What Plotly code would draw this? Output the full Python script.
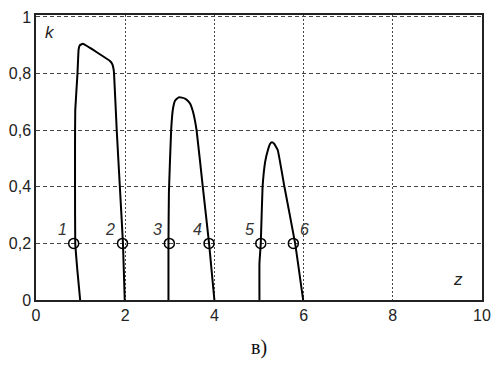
import plotly.graph_objects as go

# Curve data (z, k)
c1_z = [0.99, 0.93, 0.88, 0.875, 0.875, 0.88, 0.93, 0.955, 0.98, 1.05, 1.67, 1.715, 1.74, 1.75, 1.81, 1.88, 1.95, 1.99]
c1_k = [0.0, 0.1, 0.2, 0.4, 0.55, 0.67, 0.8, 0.885, 0.9, 0.905, 0.843, 0.832, 0.815, 0.8, 0.6, 0.4, 0.2, 0.0]

c2_z = [2.97, 2.97, 2.98, 3.03, 3.07, 3.12, 3.2, 3.27, 3.36, 3.45, 3.52, 3.6, 3.74, 3.88, 4.0]
c2_k = [0.0, 0.2, 0.38, 0.6, 0.675, 0.705, 0.716, 0.715, 0.71, 0.695, 0.665, 0.6, 0.4, 0.2, 0.0]

c3_z = [5.01, 5.01, 5.04, 5.08, 5.14, 5.2, 5.25, 5.29, 5.34, 5.42, 5.57, 5.81, 5.99]
c3_k = [0.0, 0.13, 0.2, 0.4, 0.49, 0.53, 0.552, 0.557, 0.552, 0.53, 0.4, 0.2, 0.0]

pt_z = [0.845, 1.94, 2.99, 3.88, 5.04, 5.77]
pt_k = [0.2, 0.2, 0.2, 0.2, 0.2, 0.2]
pt_labels = ["1", "2", "3", "4", "5", "6"]
pt_shift = [-11, -13, -12, -12, -11, 11]

x_ticks = [0, 2, 4, 6, 8, 10]
x_ticktext = ["0", "2", "4", "6", "8", "10"]
y_ticks = [0, 0.2, 0.4, 0.6, 0.8, 1.0]
y_ticktext = ["0", "0,2", "0,4", "0,6", "0,8", "1"]

SANS = "Arial, Liberation Sans, sans-serif"

fig = go.Figure()
for zz, kk in [(c1_z, c1_k), (c2_z, c2_k), (c3_z, c3_k)]:
    fig.add_trace(go.Scatter(x=zz, y=kk, mode="lines",
                             line=dict(color="black", width=2, shape="spline", smoothing=0.3),
                             showlegend=False, hoverinfo="skip"))

fig.add_trace(go.Scatter(x=pt_z, y=pt_k, mode="markers",
                         marker=dict(symbol="circle-open", size=10, color="black",
                                     line=dict(width=1.5, color="black")),
                         showlegend=False))

for zz, kk, t, s in zip(pt_z, pt_k, pt_labels, pt_shift):
    fig.add_annotation(x=zz, y=kk, text="<i>" + t + "</i>", showarrow=False, xshift=s, yshift=14,
                       font=dict(family=SANS, size=16, color="#333"))

fig.add_annotation(x=0.03, y=0.985, xref="x", yref="y", text="<i>k</i>", showarrow=False,
                   xanchor="left", yanchor="top", xshift=6,
                   font=dict(family=SANS, size=17, color="#222"))
fig.add_annotation(x=9.85, y=0.02, xref="x", yref="y", text="<i>z</i>", showarrow=False,
                   xanchor="right", yanchor="bottom", xshift=-10, yshift=3,
                   font=dict(family=SANS, size=17, color="#222"))
fig.add_annotation(x=0.5, y=-0.165, xref="paper", yref="paper", text="в)", showarrow=False,
                   yanchor="middle",
                   font=dict(family="Liberation Serif, serif", size=20, color="#111"))

fig.update_xaxes(range=[0, 10], tickvals=x_ticks, ticktext=x_ticktext,
                 showgrid=True, gridcolor="#444", griddash="2px,2px", gridwidth=1,
                 showline=True, linecolor="#222", linewidth=1.5, mirror=True,
                 ticks="", zeroline=False,
                 tickfont=dict(family=SANS, size=16, color="#222"))
fig.update_yaxes(range=[0, 1.007], tickvals=y_ticks, ticktext=y_ticktext,
                 showgrid=True, gridcolor="#444", griddash="4px,3px", gridwidth=1,
                 showline=True, linecolor="#222", linewidth=1.5, mirror=True,
                 ticks="", zeroline=False,
                 tickfont=dict(family=SANS, size=16, color="#222"))

fig.update_layout(width=500, height=367, margin=dict(l=35, r=15, t=9, b=67),
                  plot_bgcolor="white", paper_bgcolor="white")

fig.write_html("out.html", config={"displayModeBar": False},
               post_script="document.body.style.margin='0';document.body.style.overflow='hidden';")
